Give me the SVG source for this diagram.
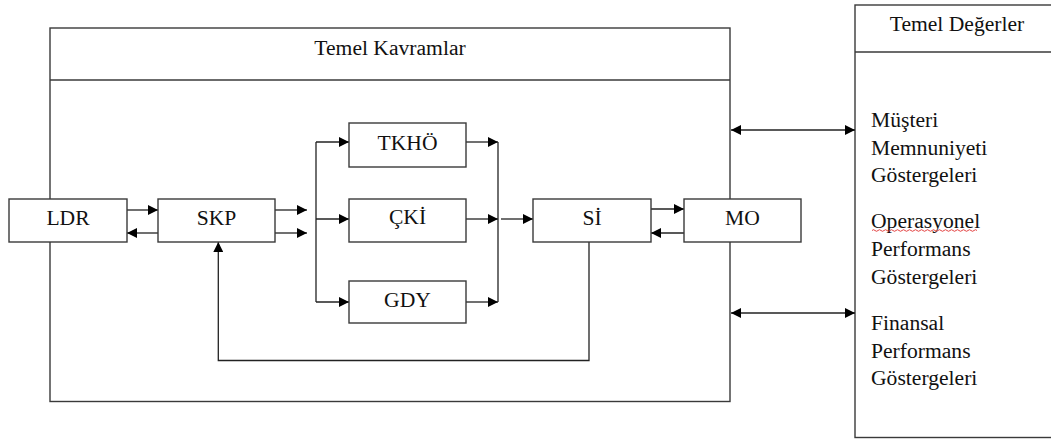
<svg xmlns="http://www.w3.org/2000/svg" width="1051" height="439" viewBox="0 0 1051 439">
<defs>
<marker id="ah" viewBox="0 0 10 10" refX="10" refY="5" markerWidth="11" markerHeight="10" markerUnits="userSpaceOnUse" orient="auto-start-reverse">
<path d="M0,0 L10,5 L0,10 z" fill="#000"/>
</marker>
<style>
.box{fill:#fff;stroke:#3a3a3a;stroke-width:1.4}
.frame{fill:none;stroke:#3a3a3a;stroke-width:1.4}
.t{font-family:"Liberation Serif","Times New Roman",serif;font-size:21.6px;fill:#111}
.c{text-anchor:middle}
.ln{fill:none;stroke:#222;stroke-width:1.3}
.ar{fill:none;stroke:#222;stroke-width:1.3;marker-end:url(#ah)}
.dar{fill:none;stroke:#222;stroke-width:1.3;marker-end:url(#ah);marker-start:url(#ah)}
</style>
</defs>
<rect width="1051" height="439" fill="#fff"/>
<g id="temel-kavramlar">
<rect class="frame" x="50" y="28" width="680" height="373.5"/>
<line class="frame" x1="50" y1="80" x2="730" y2="80"/>
<text class="t c" x="390" y="55">Temel Kavramlar</text>
</g>
<g id="temel-degerler">
<rect class="frame" x="855" y="5" width="210" height="432.5"/>
<line class="frame" x1="855" y1="52" x2="1051" y2="52"/>
<text class="t c" x="957" y="31">Temel Değerler</text>
<text class="t" x="871" y="127">Müşteri</text>
<text class="t" x="871" y="154.5">Memnuniyeti</text>
<text class="t" x="871" y="182">Göstergeleri</text>
<text class="t" x="871" y="227.5">Operasyonel</text>
<path d="M872,230.5 q1.5,-1.6 3,0 t3,0 t3,0 t3,0 t3,0 t3,0 t3,0 t3,0 t3,0 t3,0 t3,0 t3,0 t3,0 t3,0 t3,0 t3,0 t3,0 t3,0 t3,0 t3,0 t3,0 t3,0 t3,0 t3,0 t3,0 t3,0 t3,0 t3,0 t3,0 t3,0 t3,0 t3,0 t3,0 t3,0 t3,0" fill="none" stroke="#e03030" stroke-width="0.9"/>
<text class="t" x="871" y="256">Performans</text>
<text class="t" x="871" y="283.5">Göstergeleri</text>
<text class="t" x="871" y="330">Finansal</text>
<text class="t" x="871" y="357.5">Performans</text>
<text class="t" x="871" y="385">Göstergeleri</text>
</g>
<g id="connectors">
<line class="ar" x1="127" y1="210" x2="158" y2="210"/>
<line class="ar" x1="158" y1="233" x2="127" y2="233"/>
<line class="ar" x1="275" y1="210" x2="307" y2="210"/>
<line class="ar" x1="275" y1="233" x2="307" y2="233"/>
<line class="ln" x1="316" y1="142" x2="316" y2="302"/>
<line class="ar" x1="316" y1="142" x2="349" y2="142"/>
<line class="ar" x1="316" y1="219" x2="349" y2="219"/>
<line class="ar" x1="316" y1="302" x2="349" y2="302"/>
<line class="ar" x1="466" y1="142" x2="498" y2="142"/>
<line class="ar" x1="466" y1="219" x2="498" y2="219"/>
<line class="ar" x1="466" y1="302" x2="498" y2="302"/>
<line class="ln" x1="498" y1="142" x2="498" y2="302"/>
<line class="ar" x1="501" y1="219" x2="533" y2="219"/>
<line class="ar" x1="651" y1="209" x2="684" y2="209"/>
<line class="ar" x1="684" y1="233" x2="651" y2="233"/>
<polyline class="ar" points="589,242 589,360.5 218.3,360.5 218.3,242"/>
<line class="dar" x1="731" y1="130" x2="855" y2="130"/>
<line class="dar" x1="731" y1="313" x2="855" y2="313"/>
</g>
<g id="LDR">
<rect class="box" x="9" y="199" width="118" height="43"/>
<text class="t c" x="68" y="225">LDR</text>
</g>
<g id="SKP">
<rect class="box" x="158" y="199" width="117" height="43"/>
<text class="t c" x="216.5" y="225">SKP</text>
</g>
<g id="TKHO">
<rect class="box" x="349" y="123" width="117" height="44"/>
<text class="t c" x="407.5" y="149.5">TKHÖ</text>
</g>
<g id="CKI">
<rect class="box" x="349" y="199" width="117" height="43"/>
<text class="t c" x="407.5" y="224">ÇKİ</text>
</g>
<g id="GDY">
<rect class="box" x="349" y="281" width="117" height="42"/>
<text class="t c" x="407.5" y="306.5">GDY</text>
</g>
<g id="SI">
<rect class="box" x="533" y="199" width="118" height="43"/>
<text class="t c" x="592" y="225">Sİ</text>
</g>
<g id="MO">
<rect class="box" x="684" y="199" width="117" height="43"/>
<text class="t c" x="742.5" y="225">MO</text>
</g>
</svg>
